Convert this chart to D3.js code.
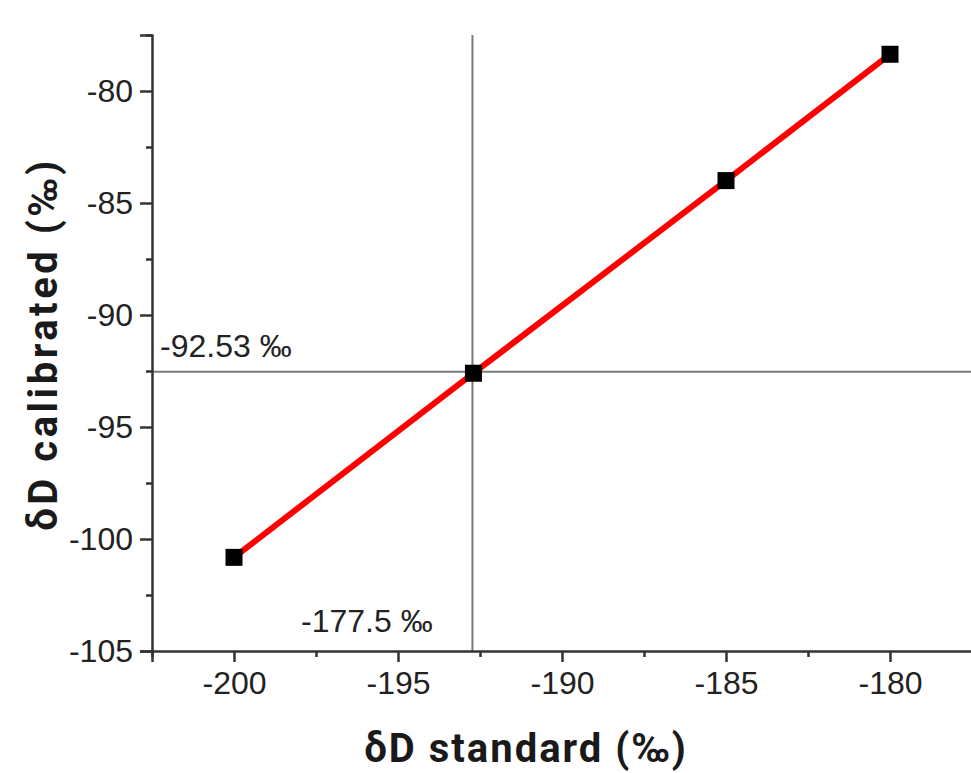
<!DOCTYPE html>
<html>
<head>
<meta charset="utf-8">
<script src="https://cdn.jsdelivr.net/npm/d3@7"></script>
<style>
  html, body { margin: 0; padding: 0; background: #fff; }
  svg { display: block; }
</style>
</head>
<body>
<svg width="971" height="773"></svg>
<script>
// data
const xStandard = [-200, -192.7, -185, -180];
const yCalibrated = [-100.82, -92.6, -84.0, -78.36];

const xTicks = [-200, -195, -190, -185, -180];
const xMinor = [-202.5, -197.5, -192.5, -187.5, -182.5, -177.5];
const yTicks = [-105, -100, -95, -90, -85, -80];
const yMinor = [-102.5, -97.5, -92.5, -87.5, -82.5, -77.5];

// cross-hair and its labels
const refX = -192.73;
const refY = -92.53;
const refXLabel = '-177.5 ‰';
const refYLabel = '-92.53 ‰';

const data = xStandard.map((x, i) => ({ x: x, y: yCalibrated[i] }));

const svg = d3.select('svg');

const x = d3.scaleLinear().domain([-202.5, -177.5]).range([152, 972]);
const y = d3.scaleLinear().domain([-105, -77.5]).range([651, 35]);

const tickFont = '"Liberation Sans", Arial, sans-serif';
const titleFont = 'Roboto, "Open Sans", sans-serif';
// plain hyphen, like the original
const fmt = d => String(d);

// grey reference lines
svg.append('line')
    .attr('x1', x(-202.5)).attr('x2', x(-177.5))
    .attr('y1', y(refY)).attr('y2', y(refY))
    .attr('stroke', '#7a7a7a').attr('stroke-width', 2);
svg.append('line')
    .attr('x1', x(refX)).attr('x2', x(refX))
    .attr('y1', y(-105)).attr('y2', y(-77.5))
    .attr('stroke', '#7a7a7a').attr('stroke-width', 2);

svg.append('text')
    .attr('x', 160).attr('y', 357)
    .attr('font-family', tickFont).attr('font-size', 32)
    .attr('fill', '#222')
    .text(refYLabel);
svg.append('text')
    .attr('x', 301).attr('y', 632)
    .attr('font-family', tickFont).attr('font-size', 32)
    .attr('fill', '#222')
    .text(refXLabel);

// red line through the points
const line = d3.line().x(d => x(d.x)).y(d => y(d.y));
svg.append('path')
    .datum(data)
    .attr('d', line)
    .attr('fill', 'none')
    .attr('stroke', '#ff0000')
    .attr('stroke-width', 6);

// square markers
const sz = 17;
svg.selectAll('rect.pt')
    .data(data)
    .enter()
    .append('rect')
    .attr('class', 'pt')
    .attr('x', d => x(d.x) - sz / 2)
    .attr('y', d => y(d.y) - sz / 2)
    .attr('width', sz)
    .attr('height', sz)
    .attr('fill', '#000');

// axes
const axisColor = '#333';

const xAxis = svg.append('g')
    .attr('transform', `translate(0,${y(-105)})`)
    .call(d3.axisBottom(x).tickValues(xTicks).tickSize(11).tickPadding(9).tickFormat(fmt));
const xMinorAxis = svg.append('g')
    .attr('transform', `translate(0,${y(-105)})`)
    .call(d3.axisBottom(x).tickValues(xMinor).tickSize(6).tickFormat(''));

const yAxis = svg.append('g')
    .attr('transform', `translate(${x(-202.5)},0)`)
    .call(d3.axisLeft(y).tickValues(yTicks).tickSize(12).tickPadding(7).tickFormat(fmt));
const yMinorAxis = svg.append('g')
    .attr('transform', `translate(${x(-202.5)},0)`)
    .call(d3.axisLeft(y).tickValues(yMinor).tickSize(6).tickFormat(''));

[xAxis, xMinorAxis, yAxis, yMinorAxis].forEach(g => {
    g.select('.domain').attr('stroke', axisColor).attr('stroke-width', 2.5);
    g.selectAll('.tick line').attr('stroke', axisColor).attr('stroke-width', 2.5);
    g.selectAll('.tick text')
        .attr('font-family', tickFont)
        .attr('font-size', 32)
        .attr('fill', '#222');
});
xMinorAxis.select('.domain').remove();
yMinorAxis.select('.domain').remove();

// axis titles
svg.append('text')
    .attr('x', 526).attr('y', 762)
    .attr('text-anchor', 'middle')
    .attr('font-family', titleFont).attr('font-weight', 'bold')
    .attr('font-size', 40)
    .attr('letter-spacing', 2)
    .attr('fill', '#1a1a1a')
    .text('δD standard (‰)');

svg.append('text')
    .attr('transform', 'translate(57,344) rotate(-90)')
    .attr('text-anchor', 'middle')
    .attr('font-family', titleFont).attr('font-weight', 'bold')
    .attr('font-size', 40)
    .attr('letter-spacing', 3.5)
    .attr('fill', '#1a1a1a')
    .text('δD calibrated (‰)');
</script>
</body>
</html>
